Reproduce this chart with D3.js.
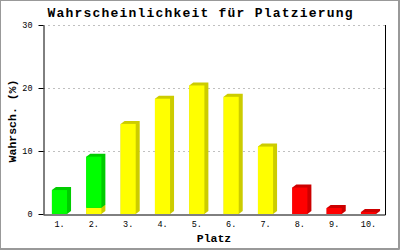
<!DOCTYPE html>
<html>
<head>
<meta charset="utf-8">
<script src="https://cdn.jsdelivr.net/npm/d3@7/dist/d3.min.js"></script>
<style>
  body { margin: 0; background: #fff; }
  svg { display: block; }
</style>
</head>
<body>
<div id="Area"></div>
<script>
// data
let places = ["1.", "2.", "3.", "4.", "5.", "6.", "7.", "8.", "9.", "10."];
let yellowVals = [0, 1.0, 14.3, 18.3, 20.4, 18.6, 10.7, 0, 0, 0];
let greenVals = [3.8, 8.1, 0, 0, 0, 0, 0, 0, 0, 0];
let redVals = [0, 0, 0, 0, 0, 0, 0, 4.2, 0.95, 0.3];
let yTicks = [0, 10, 20, 30];

let faceColors = { yellow: "#ffff00", green: "#00ff00", red: "#ff0000" };
let sideColors = { yellow: "#cccc00", green: "#00cc00", red: "#cc0000" };

drawChart();

function drawChart() {
    var width = 400, height = 250;
    var margin = {top: 25, right: 15, bottom: 36, left: 43};

    var svg = d3.select("#Area")
        .append("svg")
        .attr("width", width)
        .attr("height", height);

    // outer frame
    svg.append("rect")
        .attr("x", 0.5).attr("y", 0.5)
        .attr("width", 398).attr("height", 248)
        .attr("fill", "#fff")
        .attr("stroke", "#999");
    svg.append("path")
        .attr("d", "M399.5,0V249.5H0")
        .attr("fill", "none")
        .attr("stroke", "#999");

    var x = d3.scaleBand()
        .domain(places)
        .range([margin.left, width - margin.right])
        .paddingInner(0.56)
        .paddingOuter(0.26);

    var y = d3.scaleLinear()
        .domain([0, 30])
        .range([height - margin.bottom, margin.top]);

    // gridlines
    svg.append("g")
        .selectAll("line")
        .data(yTicks.filter(d => d > 0))
        .join("line")
        .attr("x1", margin.left)
        .attr("x2", width - margin.right)
        .attr("y1", d => y(d) + 0.5)
        .attr("y2", d => y(d) + 0.5)
        .attr("stroke", "#c0c0c0")
        .attr("stroke-dasharray", "2,3");

    // stacked bars with a fake 3d depth
    var rows = places.map((p, i) => ({
        place: p, yellow: yellowVals[i], green: greenVals[i], red: redVals[i]
    }));
    var stack = d3.stack().keys(["yellow", "green", "red"])(rows);
    var dx = 4, dy = 3;

    var bars = svg.append("g");
    stack.forEach(function (layer) {
        var key = layer.key;
        layer.forEach(function (seg) {
            if (seg[1] - seg[0] <= 0) return;
            var x0 = x(seg.data.place), w = x.bandwidth();
            var yTop = y(seg[1]), yBot = y(seg[0]);
            // side + top
            bars.append("polygon")
                .attr("points", [
                    [x0, yTop], [x0 + dx, yTop - dy], [x0 + w + dx, yTop - dy],
                    [x0 + w + dx, yBot - dy], [x0 + w, yBot], [x0, yBot]
                ].map(p => p.join(",")).join(" "))
                .attr("fill", sideColors[key]);
            bars.append("rect")
                .attr("x", x0).attr("y", yTop)
                .attr("width", w).attr("height", yBot - yTop)
                .attr("fill", faceColors[key]);
        });
    });

    // axes
    var yAxis = svg.append("g")
        .attr("transform", `translate(${margin.left + 0.5},0)`)
        .call(d3.axisLeft(y).tickValues(yTicks).tickSize(5).tickPadding(6).tickSizeOuter(0));
    yAxis.select(".domain").attr("stroke", "#000");
    yAxis.selectAll("text")
        .attr("font-family", "'Liberation Mono', monospace")
        .attr("font-size", "8.5px")
        .attr("fill", "#000");

    var xAxis = svg.append("g")
        .attr("transform", `translate(0,${y(0) + 0.5})`)
        .call(d3.axisBottom(x).tickSize(0).tickPadding(6).tickSizeOuter(0));
    xAxis.select(".domain").attr("stroke", "#000");
    xAxis.selectAll("text")
        .attr("font-family", "'Liberation Mono', monospace")
        .attr("font-size", "8.5px")
        .attr("fill", "#000");

    // right border of the plot
    svg.append("line")
        .attr("x1", width - margin.right + 0.5)
        .attr("x2", width - margin.right + 0.5)
        .attr("y1", margin.top)
        .attr("y2", y(0) + 1)
        .attr("stroke", "#000");

    // titles
    svg.append("text")
        .attr("x", 200).attr("y", 17)
        .attr("text-anchor", "middle")
        .attr("font-family", "'Liberation Mono', monospace")
        .attr("font-weight", "bold")
        .attr("font-size", "13px")
        .attr("textLength", 305)
        .attr("lengthAdjust", "spacing")
        .text("Wahrscheinlichkeit für Platzierung");

    svg.append("text")
        .attr("x", 214).attr("y", 242)
        .attr("text-anchor", "middle")
        .attr("font-family", "'Liberation Mono', monospace")
        .attr("font-weight", "bold")
        .attr("font-size", "11.5px")
        .text("Platz");

    svg.append("text")
        .attr("transform", "translate(16,121) rotate(-90)")
        .attr("text-anchor", "middle")
        .attr("font-family", "'Liberation Mono', monospace")
        .attr("font-weight", "bold")
        .attr("font-size", "11.5px")
        .text("Wahrsch. (%)");
}
</script>
</body>
</html>
